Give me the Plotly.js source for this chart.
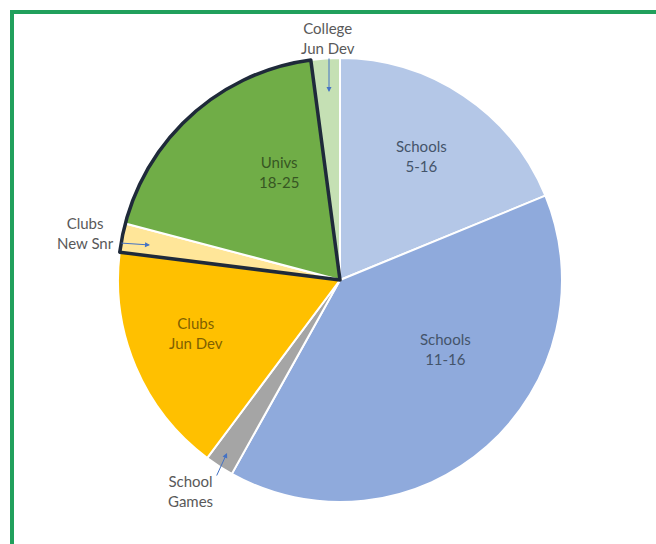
<!DOCTYPE html>
<html>
<head>
<meta charset="utf-8">
<script src="https://cdn.plot.ly/plotly-3.0.1.min.js"></script>
<style>
  html, body { margin: 0; padding: 0; background: #ffffff; overflow: hidden; }
  #frame { position: absolute; left: 10px; top: 10px; width: 700px; height: 600px;
           border: 4px solid #21a05c; box-sizing: border-box; pointer-events: none; }
  #chart { position: absolute; left: 0; top: 0; width: 656px; height: 544px; }
</style>
</head>
<body>
<div id="chart"></div>
<div id="frame"></div>
<script>
// Data (percentage shares), clockwise from 12 o'clock
const categories = ["Schools 5-16", "Schools 11-16", "School Games", "Clubs Jun Dev", "Clubs New Snr", "Univs 18-25", "College Jun Dev"];
const shares     = [18.8, 39.3, 2.1, 16.8, 2.1, 18.8, 2.1];
const sliceColors = ["#b4c7e7", "#8faadc", "#a5a5a5", "#ffc000", "#ffe699", "#70ad47", "#c5e0b4"];
const labelLines = [["Schools", "5-16"], ["Schools", "11-16"], ["School", "Games"], ["Clubs", "Jun Dev"], ["Clubs", "New Snr"], ["Univs", "18-25"], ["College", "Jun Dev"]];
const labelColors = ["#44546a", "#44546a", "#595959", "#7f6000", "#595959", "#375623", "#595959"];

// Highlighted group (outlined together): Clubs New Snr + Univs 18-25
const groupNames = ["Rest", "Outlined group", "After"];
const groupValues = [
  shares.slice(0, 4).reduce((a, b) => a + b, 0),
  shares[4] + shares[5],
  shares[6]
];

const W = 656, H = 544;
const domainX = [(340 - 222) / W, (340 + 222) / W];
const domainY = [(544 - 502) / H, (544 - 58) / H];

const pieMain = {
  type: "pie",
  labels: categories,
  values: shares,
  sort: false,
  direction: "clockwise",
  rotation: 0,
  marker: { colors: sliceColors, line: { color: "#ffffff", width: 2 } },
  textinfo: "none",
  hoverinfo: "label+percent",
  showlegend: false,
  domain: { x: domainX, y: domainY }
};

const pieOutline = {
  type: "pie",
  labels: groupNames,
  values: groupValues,
  sort: false,
  direction: "clockwise",
  rotation: 0,
  marker: {
    colors: ["rgba(0,0,0,0)", "rgba(0,0,0,0)", "rgba(0,0,0,0)"],
    line: { color: ["rgba(0,0,0,0)", "#1f2a3a", "rgba(0,0,0,0)"], width: [0, 3.5, 0] }
  },
  textinfo: "none",
  hoverinfo: "skip",
  showlegend: false,
  domain: { x: domainX, y: domainY }
};

// label placement (pixel positions of label centres)
const labelPos = [[421, 156], [445, 349], [190, 491], [196, 333], [85, 233], [279, 172], [328, 38]];
const px = (x) => x / W, py = (y) => 1 - y / H;

const annotations = categories.map((c, i) => ({
  xref: "paper", yref: "paper",
  x: px(labelPos[i][0]), y: py(labelPos[i][1]),
  text: labelLines[i].join("<br>"),
  showarrow: false,
  xanchor: "center", yanchor: "middle",
  align: "center",
  font: { family: "Lato, 'Open Sans', sans-serif", size: 15, color: labelColors[i] }
}));

// small pointer arrows for the thin slices: [head x, head y, dx tail, dy tail]
const arrows = [[227, 453, -11, 24], [150, 245, -30, -2], [329, 92, 0, -35]];
arrows.forEach(a => annotations.push({
  xref: "paper", yref: "paper",
  x: px(a[0]), y: py(a[1]),
  ax: a[2], ay: a[3],
  text: "", showarrow: true,
  arrowhead: 2, arrowsize: 1, arrowwidth: 1, arrowcolor: "#4472c4", standoff: 0
}));

const layout = {
  width: W, height: H,
  margin: { l: 0, r: 0, t: 0, b: 0 },
  paper_bgcolor: "#ffffff",
  plot_bgcolor: "#ffffff",
  showlegend: false,
  annotations: annotations
};

Plotly.newPlot("chart", [pieMain, pieOutline], layout, { displayModeBar: false, staticPlot: true });
</script>
</body>
</html>
